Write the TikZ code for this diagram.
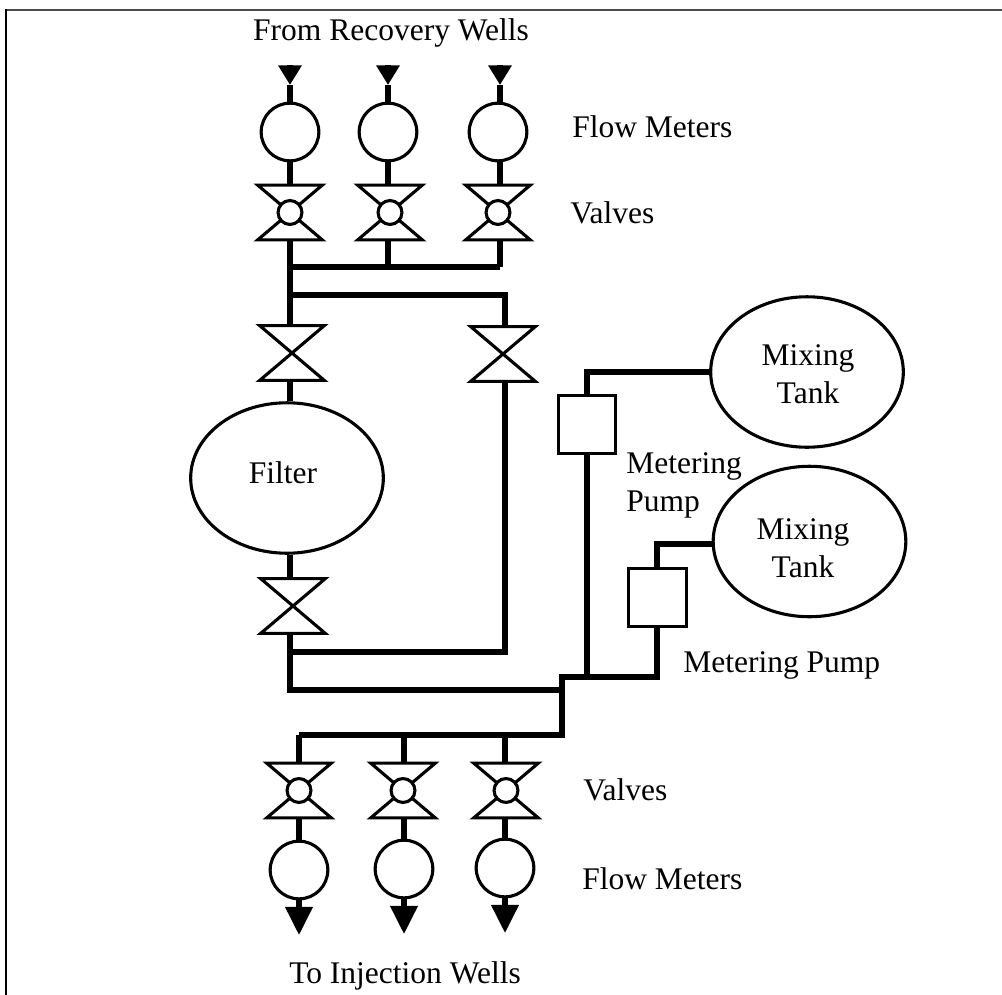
\documentclass[tikz,border=0pt]{standalone}
\usepackage{fontspec}
\setmainfont{Liberation Serif}
\usetikzlibrary{arrows.meta}
\usetikzlibrary{shapes.geometric}
\tikzset{
  pipe/.style={line width=3.6pt},
  outline/.style={draw, line width=2.2pt, fill=white, inner sep=0pt},
  meter/.style={outline, circle, minimum size=41pt},
  ball/.style={outline, circle, minimum size=17pt},
  tank/.style={outline, ellipse, minimum width=137pt, minimum height=107pt, align=center},
  pumpbox/.style={outline, rectangle, minimum width=41pt, minimum height=41pt},
  valve/.style={inner sep=0pt, minimum width=45.5pt, minimum height=38.5pt},
  bowtie/.style={line width=2.2pt, line join=miter},
  tipin/.style={pipe, -{Triangle[width=16pt,length=14pt]}},
  tipout/.style={pipe, -{Triangle[width=19pt,length=20pt]}},
  label/.style={font=\fontsize{22.4}{27}\selectfont, align=left, inner sep=0pt}
}
\begin{document}
\begin{tikzpicture}[x=0.025cm, y=-0.025cm]
  \useasboundingbox (0,0) rectangle (1002,995);
  \draw[line width=1.4pt, black!70] (6,10) -- (1002,10);
  \draw[line width=1.4pt] (6,995) -- (6,9);

  % recovery side
  \foreach \n/\px/\bx/\mx in {1/290/290/290, 2/388/390/388, 3/500/498/498} {
    \coordinate (in\n) at (\px,65);
    \coordinate (intip\n) at (\px,85);
    \node[meter] (fm\n) at (\mx,132) {};
    \node[valve] (rv\n) at (\bx,212.5) {};
    \coordinate (rvt\n) at (\px,184);
    \coordinate (rvb\n) at (\px,241);
    \coordinate (rh\n) at (\px,267);
    \draw[pipe] (intip\n) -- (\px,104);
    \draw[tipin] (in\n) -- (intip\n);
    \draw[pipe] (\px,161) -- (rvt\n);
    \draw[pipe] (rvb\n) -- (rh\n);
    \draw[bowtie] (rv\n.north west) -- (rv\n.north east) -- (rv\n.south west) -- (rv\n.south east) -- cycle;
    \node[ball] at (rv\n) {};
  }
  \draw[pipe] (rh1) -- (rh3);

  % injection side
  \foreach \n/\px/\bx/\my in {1/299/299/870, 2/404/403/869, 3/505/506/868} {
    \coordinate (ih\n) at (\px,735);
    \node[meter] (om\n) at (\px,\my) {};
    \node[valve] (iv\n) at (\bx,790.5) {};
    \draw[pipe] (ih\n) -- (\px,762);
    \draw[pipe] (\px,819) -- (om\n.north);
    \draw[pipe] (om\n.south) -- ++(0,12);
    \draw[tipout] (\px,\my+37) -- (\px,\my+65);
    \draw[bowtie] (iv\n.north west) -- (iv\n.north east) -- (iv\n.south west) -- (iv\n.south east) -- cycle;
    \node[ball] at (iv\n) {};
  }

  % main line
  \coordinate (split) at (290,295);
  \coordinate (bypass) at (505,295);
  \coordinate (joina) at (290,652);
  \coordinate (joinb) at (505,652);
  \coordinate (joinc) at (290,690);
  \coordinate (joind) at (562,690);
  \coordinate (joine) at (562,677);
  \coordinate (joinf) at (657,677);
  \coordinate (joing) at (587,677);
  \coordinate (joinh) at (562,735);

  \node[valve] (va) at (292,353) {};
  \node[valve] (vb) at (503,354) {};
  \node[valve] (vc) at (293,606) {};
  \node[tank] (filter) at (287,478) {};
  \node[tank] (tanka) at (807,372) {};
  \node[tank] (tankb) at (809.5,541.5) {};
  \node[pumpbox] (pumpa) at (587,424.5) {};
  \node[pumpbox] (pumpb) at (657.5,597.5) {};

  \draw[pipe, line join=miter] (290,241) -- (split) -- (bypass) -- (vb.north -| bypass);
  \draw[pipe] (split) -- (va.north -| split);
  \draw[pipe] (va.south -| split) -- (filter.north -| split);
  \draw[pipe] (filter.south -| split) -- (vc.north -| split);
  \draw[pipe, line join=miter] (vc.south -| split) -- (joinc) -- (joind) -- (joine) -- (joinf) -- (pumpb.south -| joinf);
  \draw[pipe] (joina) -- (joinb) -- (vb.south -| joinb);
  \draw[pipe, line join=miter] (joind) -- (joinh) -- (ih1);
  \draw[pipe] (joing) -- (pumpa.south);
  \draw[pipe, line join=miter] (pumpa.north) -- (587,372) -- (tanka.west);
  \draw[pipe, line join=miter] (pumpb.north -| joinf) -- (657,544) -- (tankb.west |- 657,544);

  \foreach \v in {va,vb,vc}
    \draw[bowtie] (\v.north west) -- (\v.north east) -- (\v.south west) -- (\v.south east) -- cycle;

  \node[label] (fromwells) at (391,33) {From Recovery Wells};
  \node[label, anchor=west] (flowa) at (572,127) {Flow Meters};
  \node[label, anchor=west] (valvesa) at (570,213) {Valves};
  \node[label] (filtertext) at (283,473) {Filter};
  \node[label, align=center] (tankatext) at (808,374) {Mixing\\Tank};
  \node[label, align=center] (tankbtext) at (803,548) {Mixing\\Tank};
  \node[label, anchor=west] (pumpatext) at (626,485) {Metering\\Pump};
  \node[label, anchor=west] (pumpbtext) at (683,665) {Metering Pump};
  \node[label, anchor=west] (valvesb) at (583,790) {Valves};
  \node[label, anchor=west] (flowb) at (582,879) {Flow Meters};
  \node[label] (towells) at (405,976) {To Injection Wells};
\end{tikzpicture}
\end{document}
